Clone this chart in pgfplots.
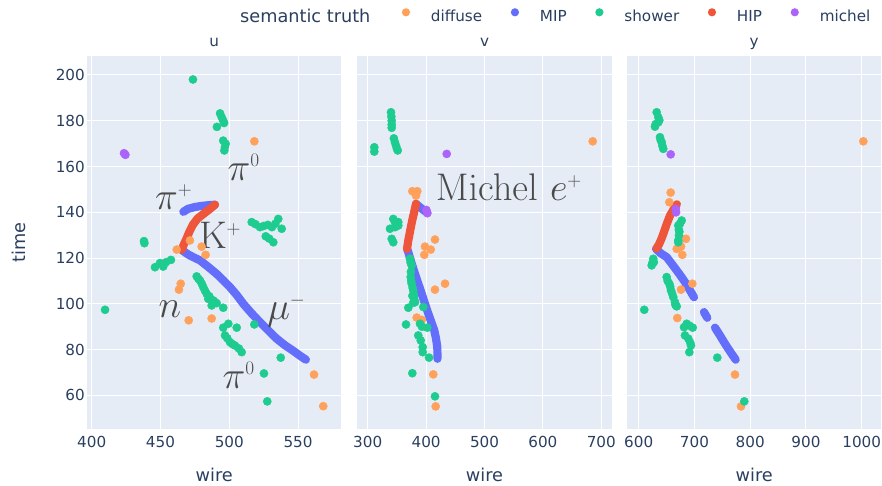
\RequirePackage{fix-cm}
\documentclass[border=0pt]{standalone}
\usepackage[no-math]{fontspec}
\setmainfont{DejaVu Sans}
\usepackage{pgfplots}
\pgfplotsset{compat=1.18}

\definecolor{bgcol}{HTML}{E5ECF6}
\definecolor{tickcol}{HTML}{2A3F5F}
\definecolor{diffcol}{HTML}{FFA15A}
\definecolor{mipcol}{HTML}{636EFA}
\definecolor{showcol}{HTML}{1ECC90}
\definecolor{hipcol}{HTML}{EF553B}
\definecolor{michcol}{HTML}{AB63FA}
\definecolor{anncol}{HTML}{4A4A4A}

\newcommand{\ticksize}{\fontsize{15.2}{18}\selectfont}
\newcommand{\titlesize}{\fontsize{17.7}{21}\selectfont}
\newcommand{\annsize}{\fontsize{38.5}{42}\selectfont}
\newcommand{\chg}[1]{^{\scriptscriptstyle #1}}

\tikzset{ann/.style={font=\annsize, text=anncol, inner sep=0pt}}

\pgfplotsset{
  facet/.style={
    scale only axis, height=373.6pt, anchor=south west,
    ymin=45.2, ymax=208.4,
    axis background/.style={fill=bgcol},
    axis line style={draw=none},
    major tick length=0pt,
    grid=major, major grid style={white, line width=1pt},
    ytick={60,80,...,200},
    tick label style={font=\ticksize, text=tickcol},
    /pgf/number format/assume math mode=true,
    /pgf/number format/1000 sep={},
    xticklabel style={inner sep=0pt, anchor=north, yshift=-6.7pt},
    yticklabel style={inner sep=0pt, anchor=east, xshift=-2.3pt},
    clip=false,
  },
  dotlegend/.style={legend image code/.code={\fill[##1, draw=none] (0pt,4.5pt) circle (4.1pt);}},
  pts/.style={only marks, mark=*, mark size=4.1pt, color=#1,
    mark options={draw=none, fill=#1}, dotlegend},
  trk/.style={color=#1, line width=8.2pt, line cap=round, line join=round, no marks,
    dotlegend},
}

\begin{document}
\begin{tikzpicture}
\path[use as bounding box] (0pt,0pt) rectangle (882pt,485pt);

% ---------------- u plane ----------------
\begin{axis}[facet, at={(87.3pt,55.7pt)}, width=253.7pt,
  xmin=396.8, xmax=581.2, xtick={400,450,500,550},
  legend columns=-1,
  legend style={at={(axis description cs:1.2400,1.1069)}, anchor=west,
    draw=none, fill=none, inner sep=0pt, outer sep=0pt,
    font=\ticksize, text=tickcol, nodes={inner sep=0pt},
    /tikz/every odd column/.append style={column sep=20.9pt},
    /tikz/every even column/.append style={column sep=28.6pt}},
]
\addplot[pts=diffcol] coordinates {
 (518.2,171) (461.8,123.7) (471.4,127.7) (479.9,125) (482.8,121.4)
 (464.7,108.8) (463.4,106.2) (470.5,92.8) (487.2,93.6) (561.6,69.1) (568.3,55.3)};
\addlegendentry{diffuse}
\addplot[trk=mipcol] coordinates {
 (465.4,123.6) (470,121.6) (474.5,120.2) (478.7,119) (485,116) (490.8,113.1)
 (495.6,110.3) (500.5,107.3) (505.5,103.8) (510.2,100) (516,96) (522.3,92)
 (528.5,88.3) (534.4,84.8) (540.5,81.9) (546.5,79.5) (551,77.5) (555.7,75.6)};
\addlegendentry{MIP}
\addplot[trk=mipcol, forget plot] coordinates {
 (466.6,140.2) (470,141.5) (475,142.3) (480,142.8) (485,143.1) (489.6,143.3)};
\addplot[pts=showcol] coordinates {
 (473.6,198)
 (493.3,183.2) (494.5,181.5) (495.6,180) (496.2,179) (491,177.3)
 (495.6,171.3) (497.4,169.9) (496.8,168.5) (496.4,167)
 (516.3,135.7) (519,134.8) (522.3,133.5) (525,134) (528,134.5) (531,133.5)
 (533.5,135) (535.6,137.1) (538.1,132.8) (526.5,129.5) (529,128.5) (532,126.9)
 (438,127.4) (438.3,126.5) (409.7,97.4)
 (446,116) (449.6,117.8) (452,116.3) (454,118.2) (457.6,119.2)
 (476.3,112) (477.5,111) (478.7,110.2) (480,108.8) (481.1,107.3) (482.3,105.8)
 (483.6,104.4) (484.7,102.2) (485.5,103.3) (488.4,101.5) (489.5,100.8)
 (490.8,100.3) (487.2,99.3) (495.6,98.3)
 (495.6,89.6) (499.3,91.3) (505.4,89.6) (496.9,86.2) (498.5,85) (500.5,83.3)
 (502,82.5) (504.1,81.8) (507,80.5) (509,78.9)
 (518.2,91) (537.4,76.5) (525.2,69.6) (527.6,57.4)};
\addlegendentry{shower}
\addplot[trk=hipcol] coordinates {
 (489.6,143.3) (486,141.5) (481.5,139.4) (477,137.3) (473.5,134.5)
 (471,131.5) (469,128.6) (467,126) (465.4,123.6)};
\addlegendentry{HIP}
\addplot[pts=michcol] coordinates {(423.5,165.8) (424.5,165.1)};
\addlegendentry{michel}

\node[ann] at (axis cs:510.5,159.5) {$\pi\chg{0}$};
\node[ann] at (axis cs:459.6,146.5) {$\pi\chg{+}$};
\node[ann] at (axis cs:493.3,129.9) {$\mathrm{K}\chg{+}$};
\node[ann] at (axis cs:456.9,97.6) {$n$};
\node[ann] at (axis cs:541.5,97.2) {$\mu\chg{-}$};
\node[ann] at (axis cs:506.8,68.8) {$\pi\chg{0}$};
\end{axis}

% ---------------- v plane ----------------
\begin{axis}[facet, at={(357.3pt,55.7pt)}, width=254.4pt,
  xmin=282.2, xmax=717.8, xtick={300,400,500,600,700}, yticklabels={}]
\addplot[pts=diffcol] coordinates {
 (685.3,171) (376.4,149.2) (384.9,149.2) (382.7,147.3) (415.2,128.1)
 (398.1,125) (407.9,123.7) (396.9,121.4) (432.4,108.8) (415.2,106.2)
 (383.9,94) (392.5,93) (412.3,69.2) (416.4,55.2)};
\addplot[trk=mipcol] coordinates {
 (367.5,124) (369.5,122.6) (375,117.8) (381,113.1) (386.8,108.7) (392.5,104.4)
 (398,100.1) (403.8,95.7) (409,92) (414,88.4) (417,84.8) (419.2,81.1) (419.5,76)};
\addplot[trk=mipcol] coordinates {
 (382.7,143.7) (388,142.5) (393,141.5) (398,140.5) (402,139.8)};
\addplot[pts=showcol] coordinates {
 (339.9,183.7) (340.5,181.8) (341.1,180) (341.1,178.3) (341.1,176.9)
 (344.8,172.3) (346.6,170.6) (348.5,169.1) (350,167.8) (351.4,167)
 (311.3,168.4) (311.3,166.5)
 (343.8,137.1) (346.7,135.7) (352.4,135.7) (352.4,134.2) (338.2,132.8)
 (346.8,133.5) (341.1,128.4) (343.8,126.9) (349,134.5)
 (372.4,119.7) (373.5,118) (375.3,116.8) (374,114) (373.6,111.7) (374.5,110)
 (375.3,108.8) (377,107) (378.1,105.8) (379,104) (379.3,102.9) (380,101.5)
 (381,100.7) (376.5,103.5) (378,100.5) (369.5,98.3) (395.2,98.6)
 (365.6,91) (389.6,91.3) (393,90) (402.1,89.6) (386.6,86.2) (390.8,84)
 (394.2,81.1) (394.2,78.9) (405,76.5) (376.4,69.7) (415.2,59.6)};
\addplot[trk=hipcol] coordinates {
 (382.7,143.7) (379.5,140) (376.2,136.4) (373.5,133) (371.3,130)
 (369.5,127.7) (368.2,125.5) (367.3,124)};
\addplot[pts=michcol] coordinates {(435.3,165.5) (400.5,141) (402.1,139.6)};

\node[ann] at (axis cs:541.7,150.8) {$\mathrm{Michel}\ e\chg{+}$};
\end{axis}

% ---------------- y plane ----------------
\begin{axis}[facet, at={(627.3pt,55.7pt)}, width=253.7pt,
  xmin=579.6, xmax=1034.6, xtick={600,700,800,900,1000}, yticklabels={}]
\addplot[pts=diffcol] coordinates {
 (1002.9,171) (657.4,148.6) (654.9,144.4) (684.8,128.4) (668.2,124)
 (675.9,125) (678.2,121.4) (696.2,108.8) (675.9,106.2) (669.2,93.8)
 (772.7,69.1) (783.5,55.2)};
\addplot[trk=mipcol] coordinates {
 (631,124) (640,122) (650.2,120.4) (659,117.6) (668.2,114.6) (676,112)
 (683,109.5) (691,106.3) (699.2,102.9)};
\addplot[trk=mipcol] coordinates {(717.1,96.4) (723.1,93.9)};
\addplot[trk=mipcol] coordinates {
 (736.9,89.6) (745,86.5) (755,82.5) (765,78.8) (774,75.6)};
\addplot[pts=showcol] coordinates {
 (632.3,183.7) (635.2,181.5) (637,180.2) (635.2,179.3) (629.2,177.4) (630.5,178.5)
 (638.2,172.8) (639.5,171.5) (641.3,170.6) (642.5,169) (644.1,167.7)
 (677.1,136.4) (674.1,135) (671,134.2) (672.3,129.9) (671,127.7) (671,126.9)
 (673,131.5) (672,132.5)
 (626.2,119.7) (623.3,116.8) (627.2,118.2) (624.5,117.8)
 (650.2,111.7) (652,110) (654.9,108.8) (656.5,107.5) (657.9,105.9) (660,104.5)
 (662.1,102.9) (665.1,100.7) (668.2,98.9) (666,99.5)
 (610,97.4)
 (686.1,91.3) (681.3,89.8) (696.9,89.6) (691,90.5) (683,86.2) (689,84.8)
 (693.8,81.8) (692.5,83) (690.8,78.9)
 (741,76.5) (789.4,57.4)};
\addplot[trk=hipcol] coordinates {
 (668.5,143.5) (662,141) (656,138.5) (650.5,135) (645.5,131.5)
 (641,128.5) (636.5,126) (632,124.2)};
\addplot[pts=michcol] coordinates {(657.4,165.3) (666.5,141.5) (667,140)};
\end{axis}

% titles and labels
\node[font=\titlesize, text=tickcol, anchor=base west, inner sep=0pt] at (240pt,462.5pt) {semantic truth};
\foreach \x/\t in {214.2/u, 484.5/v, 754.2/y}
  \node[font=\ticksize, text=tickcol, anchor=base, inner sep=0pt] at (\x pt,438.9pt) {\t};
\foreach \x in {214.2, 484.5, 754.2}
  \node[font=\titlesize, text=tickcol, anchor=base, inner sep=0pt] at (\x pt,3.5pt) {wire};
\node[font=\titlesize, text=tickcol, anchor=base, inner sep=0pt, rotate=90] at (25pt,242.8pt) {time};
\end{tikzpicture}
\end{document}
